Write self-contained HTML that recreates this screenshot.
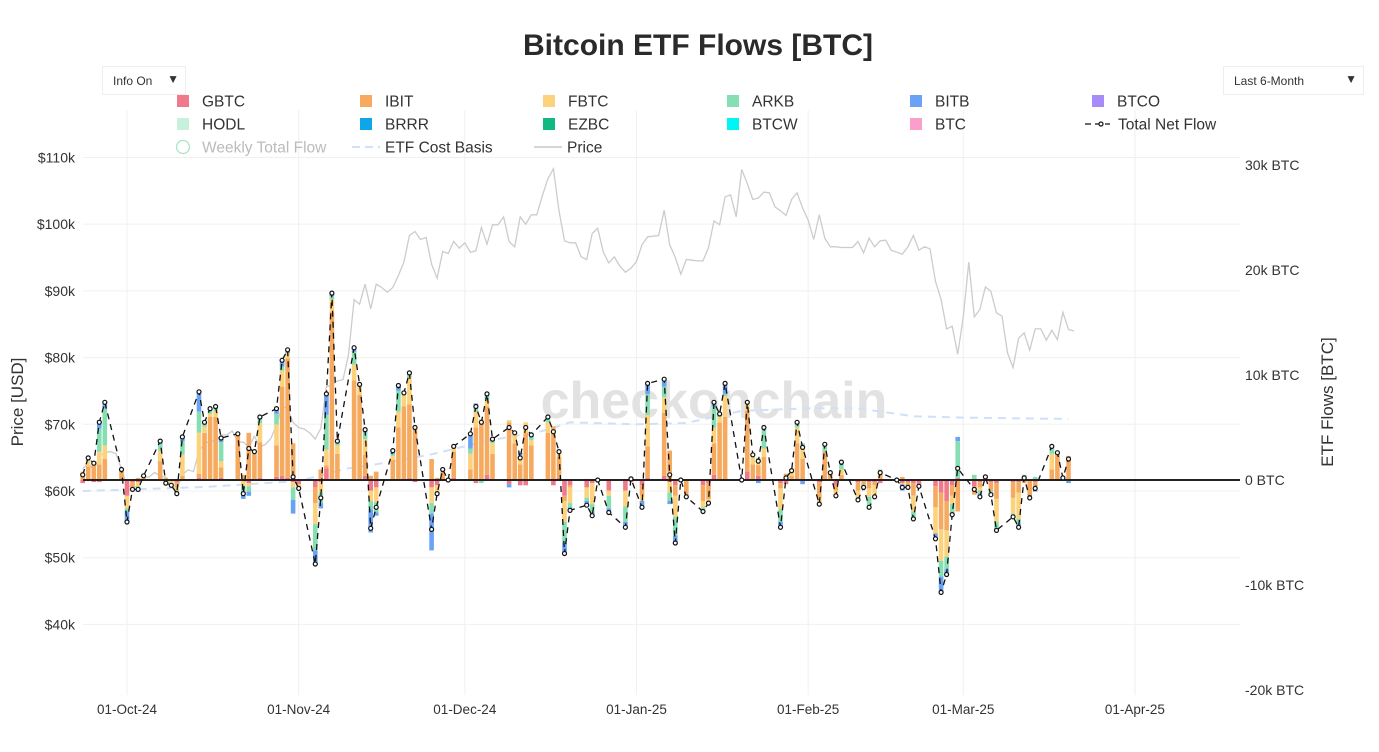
<!DOCTYPE html>
<html><head><meta charset="utf-8">
<style>
body{margin:0;background:#fff;font-family:"Liberation Sans",sans-serif;}
#wrap{position:relative;width:1379px;height:752px;overflow:hidden;background:#fff;}
.dd{position:absolute;border:1px solid #eee;background:#fff;font-size:12px;color:#333;box-sizing:border-box;padding:7px 10px;}
</style></head><body>
<div id="wrap">
<div class="dd" style="left:102px;top:66px;width:84px;height:29px;">Info On<span style="position:absolute;right:6px;top:5px;font-size:12px;">▼</span></div>
<div class="dd" style="left:1223px;top:66px;width:141px;height:29px;">Last 6-Month<span style="position:absolute;right:6px;top:5px;font-size:12px;">▼</span></div>
<svg id="svg" width="1379" height="752" style="position:absolute;left:0;top:0"></svg>
</div>
<script>
const flowDates=["2024-09-23","2024-09-24","2024-09-25","2024-09-26","2024-09-27","2024-09-30",
"2024-10-01","2024-10-02","2024-10-03","2024-10-04","2024-10-07","2024-10-08","2024-10-09","2024-10-10","2024-10-11","2024-10-14","2024-10-15","2024-10-16","2024-10-17","2024-10-18","2024-10-21","2024-10-22","2024-10-23","2024-10-24","2024-10-25","2024-10-28","2024-10-29","2024-10-30","2024-10-31",
"2024-11-01","2024-11-04","2024-11-05","2024-11-06","2024-11-07","2024-11-08","2024-11-11","2024-11-12","2024-11-13","2024-11-14","2024-11-15","2024-11-18","2024-11-19","2024-11-20","2024-11-21","2024-11-22","2024-11-25","2024-11-26","2024-11-27","2024-11-28","2024-11-29",
"2024-12-02","2024-12-03","2024-12-04","2024-12-05","2024-12-06","2024-12-09","2024-12-10","2024-12-11","2024-12-12","2024-12-13","2024-12-16","2024-12-17","2024-12-18","2024-12-19","2024-12-20","2024-12-23","2024-12-24","2024-12-25","2024-12-27","2024-12-30","2024-12-31",
"2025-01-02","2025-01-03","2025-01-06","2025-01-07","2025-01-08","2025-01-09","2025-01-10","2025-01-13","2025-01-14","2025-01-15","2025-01-16","2025-01-17","2025-01-20","2025-01-21","2025-01-22","2025-01-23","2025-01-24","2025-01-27","2025-01-28","2025-01-29","2025-01-30","2025-01-31",
"2025-02-03","2025-02-04","2025-02-05","2025-02-06","2025-02-07","2025-02-10","2025-02-11","2025-02-12","2025-02-13","2025-02-14","2025-02-17","2025-02-18","2025-02-19","2025-02-20","2025-02-21","2025-02-24","2025-02-25","2025-02-26","2025-02-27","2025-02-28",
"2025-03-03","2025-03-04","2025-03-05","2025-03-06","2025-03-07","2025-03-10","2025-03-11","2025-03-12","2025-03-13","2025-03-14","2025-03-17","2025-03-18","2025-03-19","2025-03-20"];
// flows in thousand BTC
const gbtc=[-0.3,-0.1,-0.2,-0.2,0,0,-1.5,-0.2,-0.2,0,0,0,0,-0.2,0,0.2,0,0,0,0.2,0,0,-0.3,0,0.2,0.3,0.4,0.2,-0.2,-0.4,-0.7,-0.2,1.1,0,0,0,0.1,0.4,-1.0,-0.7,0,0,0,0.2,-0.2,-0.7,-0.5,0,0,0.2,0,-0.3,0,0.5,0,-0.4,0,-0.5,-0.5,0,0,-0.5,0.2,-1.5,-0.5,-0.7,-0.3,0,-1.0,-1.0,-0.2,-0.5,0.2,0.4,-0.2,-0.5,0,-0.1,-0.5,-0.3,0.5,0,0,0,0.8,0,0.4,0,-0.3,-0.4,0.1,0,0,-0.2,0,0.1,-0.5,0,-0.2,-0.1,-0.2,-0.2,-0.3,0,-0.3,-0.2,-0.3,-0.6,-0.6,-1.2,-2.0,-0.5,0.2,-0.6,-0.2,-0.1,-0.2,-0.3,-0.2,-0.2,0,0,-0.2,0,0,0,0];
const ibit=[0.6,1.3,1.8,1.5,2.0,1.0,0,-0.5,0.2,0.2,1.8,0.2,0,-0.5,0.4,0.4,4.5,6.0,6.0,1.0,4.4,0.5,4.5,2.5,3.4,3.0,8.5,11.4,3.5,0,-1.5,1.0,0.3,16.0,2.5,9.5,8.0,2.0,0.4,0.8,1.9,5.0,7.0,7.0,5.0,2.0,0.2,0.8,0,2.5,1.0,5.0,5.5,6.5,2.5,5.5,3.5,1.5,4.5,3.3,4.5,5.1,2.0,-0.5,-0.2,0.1,0,0,0,0,0.3,-1.0,3.0,6.0,2.8,-1.0,0,-1.5,-1.5,-1.5,3.0,5.5,6.0,0,5.8,1.5,1.0,2.2,-0.5,0.6,0.3,3.5,2.0,-1.5,2.7,0.6,-0.5,0.5,-0.8,-0.3,-0.6,-0.3,0.7,0,0.3,-0.4,-1.2,0,-2.0,-3.5,-2.8,-1.0,-3.0,-0.8,-0.5,0.4,-0.8,-1.5,-1.5,-1.0,-0.3,-1.5,-0.8,1.0,2.6,0.1,2.3];
const fbtc=[0.2,0.5,0,1.2,1.3,0,-1.2,-0.2,-0.4,0.1,1.0,-0.5,-0.3,-0.3,2.0,3.9,0.6,0.3,0.6,0.6,0,-0.6,-0.3,0.2,1.8,2.0,1.5,0.5,-0.5,-0.4,-2.0,-1.0,1.5,1.2,0.8,1.5,0.8,1.5,-1.0,-1.4,0.4,1.5,1.3,2.6,0.2,-1.5,-0.8,0.2,0,0.5,1.5,1.5,0.3,0.6,1.0,0.2,1.0,0.5,1.0,0.5,1.0,0,0.5,-2.0,-1.5,-1.0,-2.0,0,-0.5,-1.5,0,-0.5,3.0,1.5,-1.0,-2.0,0,0,-0.6,-0.4,1.5,0.5,2.0,0,0.8,0.9,0.3,0.8,-2.0,0,0.5,1.5,1.0,-0.6,0,0,-0.5,0.5,-0.6,0,-0.8,-0.9,0.2,0,-0.1,0,-1.5,0,-2.5,-3.0,-2.5,-0.8,0,0,-0.3,0,0,-2.2,-1.5,-2.5,0,0,0,1.5,0,0,0];
const arkb=[0,0.3,0,2.2,3.5,0,-0.3,0,-0.4,0.1,0.6,0,-0.2,-0.3,1.3,2.0,0.2,0.3,0.2,1.8,0,-0.5,-0.5,0,0.4,1.0,0.4,0,-1.2,0,-2.5,-1.0,3.3,0.3,0.2,1.2,0.1,0.6,-0.8,-1.0,0.2,2.0,0,0.2,0,-1.0,0,0,0,0,0.5,0.5,-0.3,0.4,0.2,0,0,0.4,0,0.3,0.3,0,0,-2.0,-0.4,-0.3,-0.8,0,-1.2,-1.5,0,0,2.0,1.0,-0.8,-1.8,0,0,-0.4,0,2.0,0.3,0.2,0,0,0,0.4,2.0,-1.2,0,0,0.3,0.5,0,0.6,0,0,0.7,-0.3,-0.3,-1.0,-0.2,0.1,0,0,-0.1,-0.7,0,0,-1.5,-1.2,-0.8,3.5,0.5,-0.3,0,-0.4,-0.8,-0.2,-0.5,0.5,-0.2,0.3,0.7,0,0.1,0];
const bitb=[0,0.1,0,0.8,0.6,0,-1.0,0,-0.1,0,0.3,0,0,0,0.4,1.9,0.2,0.2,0.2,0.4,0,-0.7,-0.4,0,0.2,0.5,0.6,0.3,-1.3,0,-1.3,-0.5,2.0,0.3,0.2,0.4,0.1,0.3,-2.2,-0.3,0.3,0.5,0,0.2,0,-3.5,-0.2,0,0,0,1.4,0.3,0,0.2,0.2,-0.3,0,0.2,0,0.2,0.2,0,0,-1.0,-0.3,-0.5,-0.3,0,-0.4,-0.5,0,-0.6,1.0,0.7,-0.3,-0.7,0,0,0,0,0.4,0,1.0,0,0,0,-0.3,0,-0.5,0,0,0.2,-0.4,0,0.1,0,0,0,0,0,0,0,0,0,-0.6,0,0,0,-0.5,-1.5,-0.5,-0.2,0.4,0,-0.3,0,0,0,-0.1,-0.3,0,0,-0.1,0,0,0,-0.3];
// BTC price, thousand USD, daily from 2024-09-23
const priceStart="2024-09-23";
const price=[63.3,64.2,63.1,65.2,65.8,65.9,65.6,63.3,
60.8,60.6,60.7,62.1,62.1,62.8,62.2,62.1,60.6,60.3,62.4,63.2,62.9,66.0,67.0,67.6,67.4,68.4,68.4,69.0,67.4,67.3,66.6,68.2,66.6,67.0,67.9,69.9,72.7,72.3,70.3,
69.5,69.3,68.7,67.8,69.4,75.6,75.9,76.5,76.7,80.4,88.7,88.0,91.0,87.3,91.0,90.5,89.8,90.5,92.3,94.3,98.3,98.9,97.7,98.0,94.0,91.9,95.9,95.6,97.4,96.4,
97.2,95.8,96.0,99.5,97.0,99.9,99.9,101.1,97.4,96.6,101.1,100.0,101.4,101.4,104.3,106.8,108.3,102.0,97.5,97.2,97.2,95.1,94.7,98.6,99.4,95.8,94.2,95.1,93.7,92.8,93.4,
94.4,96.9,98.1,98.2,98.3,102.1,96.9,95.0,92.5,94.7,94.6,94.5,94.5,96.5,100.5,99.9,104.1,104.4,101.1,108.2,106.1,103.7,103.9,104.8,104.7,102.6,102.0,101.3,103.7,104.7,102.4,
100.6,97.7,101.4,97.9,96.6,96.6,96.5,96.5,96.5,97.4,95.7,97.9,96.6,97.5,97.6,96.1,95.8,95.5,96.6,98.3,96.1,96.6,96.3,91.4,88.7,84.3,84.7,80.5,
86.0,94.3,86.1,87.2,90.6,89.9,86.7,86.2,80.7,78.5,82.9,83.7,81.1,84.3,84.3,82.6,84.1,82.7,86.8,84.2,84.0];
const costDates=["2024-09-23","2024-10-15","2024-11-01","2024-11-10","2024-11-15","2024-11-25","2024-12-05","2024-12-15","2024-12-20","2025-01-01","2025-01-10","2025-01-20","2025-02-01","2025-02-10","2025-02-20","2025-03-01","2025-03-20"];
const costBasis=[60.0,60.6,61.5,63.4,64.0,65.5,67.5,69.0,70.3,70.0,70.2,72.0,72.4,72.4,71.2,71.0,70.8];
const priceTicks=[40,50,60,70,80,90,100,110];
const flowTicks=[30,20,10,0,-10,-20];
const xTickLabels=["01-Oct-24","01-Nov-24","01-Dec-24","01-Jan-25","01-Feb-25","01-Mar-25","01-Apr-25"];
const xTickDates=["2024-10-01","2024-11-01","2024-12-01","2025-01-01","2025-02-01","2025-03-01","2025-04-01"];

const NS="http://www.w3.org/2000/svg";
const svg=document.getElementById('svg');
const DAY=86400000, T0=Date.UTC(2024,9,1);
function dt(s){const p=s.split('-');return Date.UTC(+p[0],+p[1]-1,+p[2]);}
function X(ms){return 127+(ms-T0)/DAY*5.538;}
function YF(k){return 480-k*10.5;}
function YP(k){return 491-(k-60)*6.671;}
function el(tag,attrs,parent){const e=document.createElementNS(NS,tag);for(const k in attrs)e.setAttribute(k,attrs[k]);(parent||svg).appendChild(e);return e;}
function txt(s,attrs,parent){const e=el('text',attrs,parent);e.textContent=s;return e;}

const grid=el('g',{});


priceTicks.forEach(p=>{el('line',{x1:83,x2:1240,y1:YP(p),y2:YP(p),stroke:'#f0f0f0','stroke-width':1},grid);});
xTickDates.forEach(d=>{el('line',{x1:X(dt(d)),x2:X(dt(d)),y1:110,y2:695,stroke:'#f0f0f0','stroke-width':1},grid);});

const wm=txt('checkonchain',{x:714,y:418,'text-anchor':'middle','font-size':52,'font-weight':'bold',fill:'#e2e2e2','font-family':'Liberation Sans, sans-serif'});



const pts=price.map((p,i)=>X(dt(priceStart)+i*DAY).toFixed(1)+','+YP(p).toFixed(1)).join(' ');
const pl=el('polyline',{points:pts,fill:'none',stroke:'#cccccc','stroke-width':1.3});



const cb=el('polyline',{points:costBasis.map((c,i)=>X(dt(costDates[i])).toFixed(1)+','+YP(c).toFixed(1)).join(' '),fill:'none',stroke:'#cfe0fb','stroke-width':2,'stroke-dasharray':'8,6'});



const series=[[gbtc,'#f07a8c','gbtc'],[ibit,'#f5aa60','ibit'],[fbtc,'#fcd27d','fbtc'],[arkb,'#86dfb3','arkb'],[bitb,'#6aa3f6','bitb']];
const bars=el('g',{});


const net=[];
flowDates.forEach((d,i)=>{
  const x=X(dt(d));let pos=0,neg=0,sum=0;
  series.forEach(s=>{
    const v=s[0][i];sum+=v;if(!v)return;
    let y0,y1;
    if(v>0){y0=pos;y1=pos+v;pos=y1;}else{y0=neg;y1=neg+v;neg=y1;}
    const r=el('rect',{x:(x-2.3).toFixed(1),y:Math.min(YF(y0),YF(y1)).toFixed(1),width:4.6,height:Math.abs(YF(y1)-YF(y0)).toFixed(1),fill:s[1]},bars);
    
    
  });
  net.push([x,YF(sum)]);
});

const zl=el('line',{x1:83,x2:1240,y1:480,y2:480,stroke:'#222','stroke-width':2});



const nl=el('polyline',{points:net.map(p=>p[0].toFixed(1)+','+p[1].toFixed(1)).join(' '),fill:'none',stroke:'#111','stroke-width':1.3,'stroke-dasharray':'6,5'});


net.forEach(p=>{
  const c=el('circle',{cx:p[0].toFixed(1),cy:p[1].toFixed(1),r:2,fill:'#fff',stroke:'#111','stroke-width':1.2});
  
  
});

priceTicks.forEach(p=>{
  const t=txt('$'+p+'k',{x:75,y:YP(p)+5,'text-anchor':'end','font-size':14,fill:'#333'});
  
  
});
flowTicks.forEach(f=>{
  const t=txt((f===0?'0':f+'k')+' BTC',{x:1245,y:YF(f)+5,'font-size':14,fill:'#333'});
  
  
});
xTickLabels.forEach((l,i)=>{
  const t=txt(l,{x:X(dt(xTickDates[i])),y:714,'text-anchor':'middle','font-size':13.5,fill:'#333'});
  
  
});
const yl=txt('Price [USD]',{x:0,y:0,transform:'translate(23,402) rotate(-90)','text-anchor':'middle','font-size':17,fill:'#333'});


const yr=txt('ETF Flows [BTC]',{x:0,y:0,transform:'translate(1333,402) rotate(-90)','text-anchor':'middle','font-size':17,fill:'#333'});


const ti=txt('Bitcoin ETF Flows [BTC]',{x:698,y:55,'text-anchor':'middle','font-size':30,'font-weight':'bold',fill:'#2a2a2a'});



const legendItems=[
 ['GBTC','rect','#f07a8c',177,101],['IBIT','rect','#f5aa60',360,101],['FBTC','rect','#fcd27d',543,101],['ARKB','rect','#86dfb3',727,101],['BITB','rect','#6aa3f6',910,101],['BTCO','rect','#a78bfa',1092,101],
 ['HODL','rect','#c8f0dc',177,124],['BRRR','rect','#0ea5e9',360,124],['EZBC','rect','#10b981',543,124],['BTCW','rect','#00f5f5',727,124],['BTC','rect','#f99fc9',910,124],['Total Net Flow','net','#111',1085,124],
 ['Weekly Total Flow','circ','#a8e6c4',177,147],['ETF Cost Basis','dash','#cfe0fb',355,147],['Price','line','#c8c8c8',537,147]];
legendItems.forEach(it=>{
  const g=el('g',{});
  
  
  const [lab,type,col,x,y]=it;
  let tx=x+25;
  if(type==='rect')el('rect',{x:x,y:y-6,width:12,height:12,fill:col},g);
  else if(type==='circ')el('circle',{cx:x+6,cy:y,r:6.5,fill:'none',stroke:col,'stroke-width':1.3},g);
  else if(type==='dash')el('line',{x1:x-3,x2:x+25,y1:y,y2:y,stroke:col,'stroke-width':2,'stroke-dasharray':'8,5'},g);
  else if(type==='line')el('line',{x1:x-3,x2:x+25,y1:y,y2:y,stroke:col,'stroke-width':1.5},g);
  else {el('line',{x1:x,x2:x+25,y1:y,y2:y,stroke:col,'stroke-width':1.3,'stroke-dasharray':'6,4'},g);el('circle',{cx:x+16,cy:y,r:2,fill:'#fff',stroke:col,'stroke-width':1.2},g);tx=x+33;}
  if(type==='dash'||type==='line')tx=x+30;
  txt(lab,{x:tx,y:y+5.5,'font-size':15.5,fill:type==='circ'?'#bbb':'#333'},g);
});
</script>
</body></html>
